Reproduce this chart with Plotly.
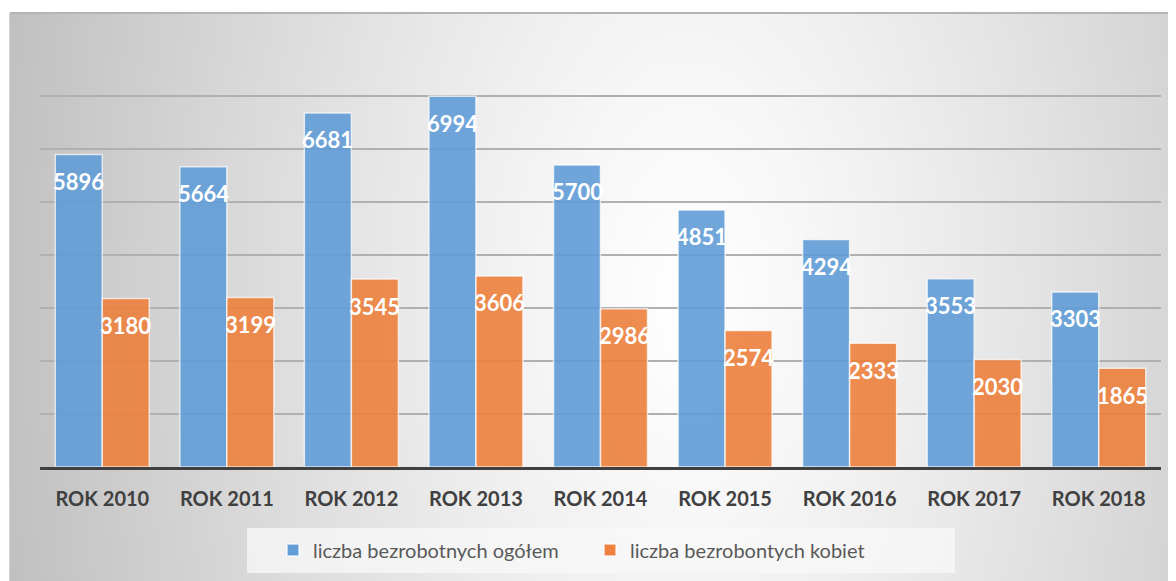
import base64
import struct
import zlib

import numpy as np
import plotly.graph_objects as go

# Data
lata = ['ROK 2010', 'ROK 2011', 'ROK 2012', 'ROK 2013', 'ROK 2014',
        'ROK 2015', 'ROK 2016', 'ROK 2017', 'ROK 2018']
ogolem = [5896, 5664, 6681, 6994, 5700, 4851, 4294, 3553, 3303]
kobiety = [3180, 3199, 3545, 3606, 2986, 2574, 2333, 2030, 1865]

# page has an 8px body margin, so the figure is drawn 8px in from the corner
W, H = 1168, 573
L, R, T, B = 32, 15, 35, 114
pw, ph = W - L - R, H - T - B


def gradient_png(w=240, h=120):
    # light-grey radial background like the Excel chart area
    xs = np.linspace(2, W, w)
    ys = np.linspace(5, H, h)
    X, Y = np.meshgrid(xs, ys)
    t = np.sqrt(((X - 680) / 620) ** 2 + ((Y - 290) / 1100) ** 2)
    t = np.clip(t, 0, 1.15)
    g = np.clip(255 - 54 * t ** 1.2, 0, 255).astype(np.uint8)
    raw = b''.join(b'\x00' + row.tobytes() for row in g)

    def chunk(tag, data):
        c = struct.pack('>I', len(data)) + tag + data
        return c + struct.pack('>I', zlib.crc32(tag + data) & 0xffffffff)

    png = b'\x89PNG\r\n\x1a\n'
    png += chunk(b'IHDR', struct.pack('>IIBBBBB', w, h, 8, 0, 0, 0, 0))
    png += chunk(b'IDAT', zlib.compress(raw, 9))
    png += chunk(b'IEND', b'')
    return 'data:image/png;base64,' + base64.b64encode(png).decode()


fig = go.Figure()

fig.add_trace(go.Bar(
    x=lata, y=ogolem,
    name='liczba bezrobotnych ogółem',
    marker=dict(color='#619dd7', opacity=0.9,
                line=dict(color='rgba(255,255,255,0.75)', width=1.5)),
))
fig.add_trace(go.Bar(
    x=lata, y=kobiety,
    name='liczba bezrobontych kobiet',
    marker=dict(color='#ed813d', opacity=0.9,
                line=dict(color='rgba(255,255,255,0.75)', width=1.5)),
))

# value labels inside the top of each bar
label_font = dict(family='Lato', size=22, color='white')
for rok, a, b in zip(lata, ogolem, kobiety):
    fig.add_annotation(x=rok, y=a, text='<b>%d</b>' % a, showarrow=False,
                       xshift=-23.5, yshift=-27, yanchor='middle', font=label_font)
    fig.add_annotation(x=rok, y=b, text='<b>%d</b>' % b, showarrow=False,
                       xshift=23.5, yshift=-27, yanchor='middle', font=label_font)

# background + frame
fig.add_layout_image(
    source=gradient_png(), xref='paper', yref='paper',
    x=(2 - L) / pw, y=(H - B - 5) / ph,
    sizex=(W - 2) / pw, sizey=(H - 5) / ph,
    xanchor='left', yanchor='top', sizing='stretch', layer='below',
)
fig.add_shape(type='line', xref='paper', yref='paper',
              x0=(2 - L) / pw, x1=(W - L) / pw,
              y0=(H - B - 5) / ph, y1=(H - B - 5) / ph,
              line=dict(color='#b4b4b4', width=2), layer='below')
fig.add_shape(type='line', xref='paper', yref='paper',
              x0=(2 - L) / pw, x1=(2 - L) / pw,
              y0=(H - B - 5) / ph, y1=(H - B - H) / ph,
              line=dict(color='#c0c0c0', width=1.5), layer='below')
# legend box
fig.add_shape(type='rect', xref='paper', yref='paper',
              x0=(239 - L) / pw, x1=(947 - L) / pw,
              y0=(H - B - 520) / ph, y1=(H - B - 565) / ph,
              fillcolor='rgba(248,248,248,0.75)', line_width=0, layer='below')

fig.update_xaxes(
    showline=True, linecolor='#404040', linewidth=3,
    ticks='', ticklabelstandoff=12,
    tickfont=dict(family='Lato', size=20, color='#404040', weight='bold'),
)
fig.update_yaxes(
    range=[0, 8000], dtick=1000, showticklabels=False,
    showgrid=True, gridcolor='#b0b0b0', gridwidth=1.5, zeroline=False,
)

fig.update_layout(
    width=W, height=H,
    margin=dict(l=L, r=R, t=T, b=B),
    paper_bgcolor='white', plot_bgcolor='rgba(0,0,0,0)',
    barmode='group', bargap=0.245, bargroupgap=0,
    legend=dict(
        orientation='h', x=(265 - L) / pw, xanchor='left',
        y=(H - B - 542) / ph, yanchor='middle',
        bgcolor='rgba(0,0,0,0)', entrywidth=272, entrywidthmode='pixels',
        font=dict(family='Lato', size=20, color='#595959'),
    ),
)

fig.write_html('out.html')
